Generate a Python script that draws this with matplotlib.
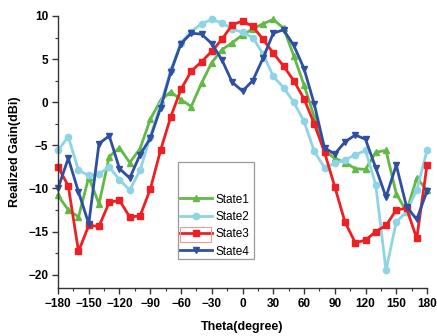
import matplotlib
matplotlib.use("Agg")
import matplotlib.pyplot as plt
from matplotlib.patches import Rectangle
from matplotlib.ticker import MultipleLocator

theta = list(range(-180, 181, 10))

state1 = [-10.8, -12.5, -13.3, -8.7, -11.8, -6.3, -5.3, -7.0, -5.4, -2.0,
          0.2, 1.2, 0.3, -0.5, 2.2, 4.6, 6.1, 6.9, 7.8, 8.5,
          9.1, 9.6, 8.6, 5.4, 2.0, -1.7, -5.6, -6.5, -7.0, -7.7,
          -7.8, -5.8, -5.6, -10.6, -12.7, -8.8, -10.2]
state2 = [-5.6, -4.0, -7.9, -8.5, -8.3, -7.5, -9.0, -10.2, -7.9, -4.0,
          -0.3, 3.7, 6.9, 8.2, 9.1, 9.6, 9.2, 8.5, 8.1, 7.5,
          5.6, 3.0, 1.7, 0.0, -2.2, -5.7, -7.6, -7.1, -6.7, -6.1,
          -5.6, -9.6, -19.5, -13.9, -12.7, -10.2, -5.6]
state3 = [-7.5, -9.7, -17.3, -14.3, -14.4, -11.6, -11.4, -13.3, -13.2, -10.1,
          -5.6, -1.7, 1.5, 3.6, 4.7, 5.9, 7.3, 9.0, 9.4, 8.8,
          7.3, 5.7, 4.2, 2.5, 0.4, -2.5, -5.8, -9.8, -13.9, -16.3,
          -16.0, -15.0, -14.3, -12.5, -12.3, -15.8, -7.3]
state4 = [-10.0, -6.5, -10.4, -14.1, -4.8, -3.9, -7.7, -8.8, -6.1, -4.2,
          -0.7, 3.5, 6.8, 8.0, 7.9, 6.8, 4.9, 2.3, 1.3, 2.5,
          5.1, 8.0, 8.4, 6.6, 3.9, -0.2, -5.3, -6.0, -4.6, -3.8,
          -4.3, -7.6, -11.0, -7.3, -12.1, -13.6, -10.3]

labels = ["State1", "State2", "State3", "State4"]
colors = ["#62b946", "#8fd4e4", "#ee2024", "#2f4fa2"]
markers = ["^", "o", "s", "v"]
series = [state1, state2, state3, state4]

xticks = list(range(-180, 181, 30))
yticks = [-20, -15, -10, -5, 0, 5, 10]

plt.rcParams['font.family'] = ['Liberation Sans', 'DejaVu Sans']

fig = plt.figure(figsize=(4.37, 3.36), dpi=100)
ax = fig.add_axes([58/437, 1-288/336, 369/437, 272/336])

for y, lab, c, m in zip(series, labels, colors, markers):
    ax.plot(theta, y, color=c, marker=m, markersize=4.5, linewidth=2.0,
            label=lab, clip_on=False)

ax.set_xlim(-180, 180)
ax.set_ylim(-21.55, 10)
ax.set_xticks(xticks)
ax.set_yticks(yticks)
ax.xaxis.set_minor_locator(MultipleLocator(15))
ax.yaxis.set_minor_locator(MultipleLocator(2.5))
ax.spines['top'].set_visible(False)
ax.spines['right'].set_visible(False)
for s in ['left', 'bottom']:
    ax.spines[s].set_color('#333333')
    ax.spines[s].set_linewidth(1.0)
ax.tick_params(which='major', direction='out', length=4, width=1, colors='#333333',
               labelsize=8.5, labelcolor='black', pad=3)
ax.tick_params(which='minor', direction='out', length=2.5, width=0.8, colors='#333333')
for t in ax.get_xticklabels() + ax.get_yticklabels():
    t.set_fontweight('bold')

ax.set_xlabel("Theta(degree)", fontsize=9, fontweight='bold', labelpad=8)
ax.set_ylabel("Realized Gain(dBi)", fontsize=9, fontweight='bold', labelpad=5)

# legend box
ax.add_patch(Rectangle((0.325, 0.106), 0.206, 0.357, transform=ax.transAxes,
                       facecolor='white', edgecolor='#999999', linewidth=0.9, zorder=4))
leg = ax.legend(loc='lower left', bbox_to_anchor=(0.331, 0.112), frameon=False,
                fontsize=8.5, handlelength=2.7, handletextpad=0.3, labelspacing=0.45,
                borderpad=0, borderaxespad=0)
leg.set_zorder(5)

# selection highlight around State3 legend entry (as in reference)
fig.patches.append(Rectangle((180/437, 1-242/336), 31/437, 15/336,
                             transform=fig.transFigure, facecolor='none',
                             edgecolor='#f29a9a', linewidth=0.8, zorder=6))

fig.savefig("out.png", dpi=100)
